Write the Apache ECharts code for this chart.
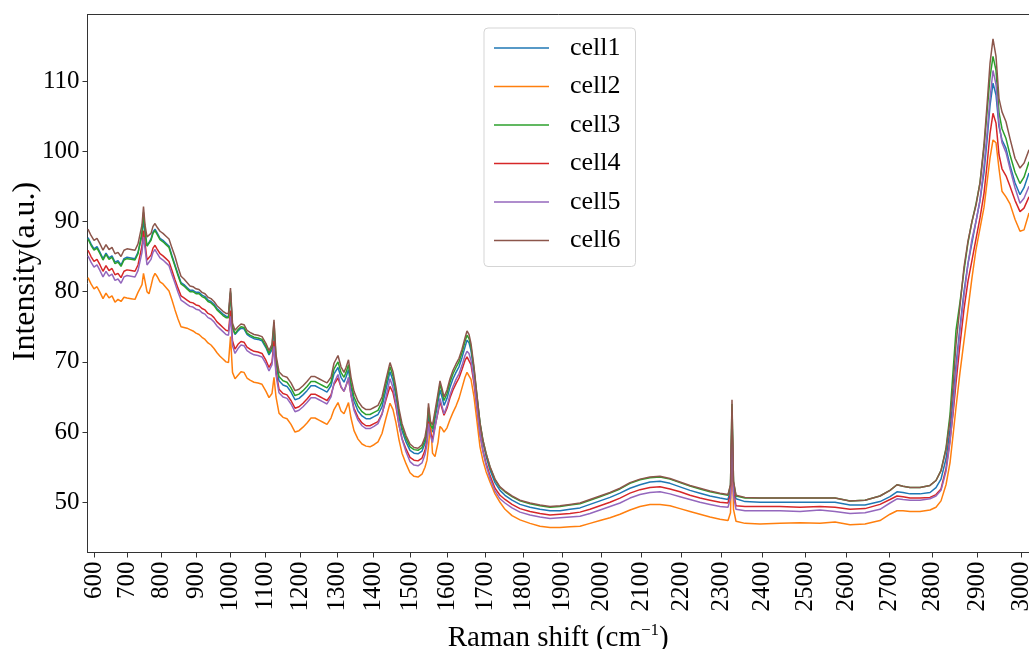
<!DOCTYPE html>
<html><head><meta charset="utf-8">
<script src="https://cdn.jsdelivr.net/npm/echarts@6/dist/echarts.min.js"></script>
<style>html,body{margin:0;padding:0;background:#fff;overflow:hidden}#c{width:1029px;height:649px}</style>
</head><body><div id="c"></div>
<script>
// detector channel of each sample (uniform-in-wavelength axis, as in the source plot)
const channel = [
0.5,3.5,6.5,9.5,12.5,15.5,18.5,21.5,24.5,27.5,
30.5,33.5,36.5,39.5,43.5,47.5,50.5,52.5,54.5,56,
57.5,59.5,61.5,63.5,65.5,67.5,69.5,72.5,75.5,78.5,
81.5,84.5,87.5,90.5,93.5,96.5,99.5,102.5,105.5,108.5,
111.5,114.5,117.5,120.5,123.5,126.5,129.5,132.5,135.5,138.5,
141,143,145,147.5,150.5,153.5,156.5,159.5,162.5,166.5,
170.5,174.5,178.5,181.5,184.5,186.5,188.5,191.5,195.5,199.5,
203.5,207.5,211.5,215.5,219.5,223.5,227.5,231.5,235.5,239.5,
243.5,246.5,250.5,253.5,256.5,258.5,261,263.5,266.5,270.5,
274.5,278.5,282.5,286.5,290.5,294.5,298.5,302.5,305.5,308.5,
311.5,314.5,318.5,322.5,326.5,330.5,334.5,337.5,339.5,341,
343,345,347.5,350.5,352.5,354.5,356.5,359.5,362.5,365.5,
368.5,371.5,374.5,377.5,379.5,381.5,383.5,386.5,389.5,392.5,
395.5,398.5,402.5,407.5,412.5,417.5,424.5,432.5,442.5,452.5,
462.5,472.5,482.5,492.5,502.5,512.5,522.5,532.5,542.5,552.5,
562.5,572.5,582.5,592.5,602.5,612.5,622.5,632.5,640.5,643,
644.5,646,648.5,657.5,672.5,692.5,712.5,732.5,747.5,762.5,
777.5,792.5,802.5,809.5,815.5,822.5,832.5,842.5,848.5,853.5,
858.5,862.5,865.5,868.5,872.5,876.5,880.5,884.5,888.5,892.5,
896.5,899.5,902.5,905.5,908.5,911.5,914.5,918.5,922.5,927.5,
932.5,936.5,941.5];

const cell1 = [
87.7,86.8,86.1,86.4,85.6,84.7,85.5,84.8,85.1,84.2,
84.4,83.8,84.7,84.9,84.8,84.7,85.6,85.5,88.0,90.3,
88.3,86.5,86.4,87.5,88.5,88.9,88.4,87.6,87.3,86.9,
86.5,85.1,83.8,82.5,81.3,81.0,80.6,80.2,80.2,79.9,
79.9,79.5,79.3,78.8,78.6,78.2,77.6,77.2,76.8,76.5,
76.4,79.8,74.8,73.9,74.4,74.8,74.7,73.9,73.6,73.3,
73.2,73.0,72.0,71.0,71.7,74.6,70.0,67.3,66.7,66.5,
65.7,64.6,64.8,65.3,65.9,66.6,66.6,66.3,66.0,65.7,
66.6,68.3,69.2,67.8,67.1,67.8,68.9,66.4,64.4,63.0,
62.3,61.9,61.9,62.2,62.5,63.6,66.1,68.6,67.3,65.1,
62.2,60.2,58.6,57.4,57.0,56.9,57.3,58.4,59.8,62.5,
60.5,60.0,61.9,64.3,66.0,65.0,63.8,64.8,66.4,67.6,
68.5,69.3,70.6,72.1,73.1,72.7,71.6,68.6,64.8,61.1,
58.5,56.6,54.6,52.8,51.7,51.0,50.3,49.7,49.3,49.0,
48.8,48.8,49.0,49.2,49.7,50.2,50.7,51.3,52.0,52.5,
52.9,53.0,52.7,52.2,51.7,51.3,50.9,50.6,50.4,51.8,
62.5,52.3,50.5,50.1,50.0,50.0,50.0,50.0,50.0,49.6,
49.6,50.1,50.8,51.5,51.4,51.2,51.2,51.4,52.1,53.3,
56.2,60.3,64.5,69.5,75.0,80.0,84.0,87.0,90.0,93.0,
97.0,101.5,106.5,109.7,108.0,103.5,101.6,100.4,98.0,95.5,
93.8,94.8,96.9];

const cell2 = [
82.0,81.1,80.4,80.7,79.9,79.0,79.8,79.1,79.4,78.5,
78.9,78.6,79.2,79.1,79.0,78.9,79.9,79.7,81.0,82.6,
81.5,80.0,79.7,80.8,82.0,82.6,82.2,81.4,81.1,80.6,
80.1,78.8,77.4,76.1,75.0,74.9,74.8,74.6,74.4,74.1,
73.9,73.5,73.2,72.7,72.4,71.9,71.3,70.8,70.4,70.0,
69.9,73.6,68.5,67.6,68.1,68.6,68.5,67.7,67.4,67.1,
67.0,66.8,65.8,64.9,65.5,67.8,65.0,62.7,62.1,61.9,
61.1,60.0,60.2,60.7,61.3,62.0,62.0,61.7,61.4,61.1,
62.0,63.2,64.2,63.0,62.6,63.3,64.2,62.0,60.2,59.0,
58.3,58.0,57.9,58.2,58.6,59.8,62.0,64.1,63.2,61.3,
58.9,57.0,55.5,54.2,53.7,53.6,54.0,55.0,56.0,58.0,
61.5,57.0,56.5,58.5,60.8,60.5,60.0,60.6,61.8,62.8,
63.7,64.8,66.3,67.8,68.5,68.4,67.5,65.0,61.5,57.9,
55.9,54.4,52.9,51.2,50.0,49.0,48.1,47.5,47.0,46.6,
46.4,46.4,46.5,46.6,47.0,47.4,47.8,48.3,48.9,49.4,
49.7,49.7,49.5,49.1,48.7,48.3,47.9,47.6,47.4,48.5,
58.0,49.0,47.3,47.0,46.9,47.0,47.1,47.0,47.2,46.8,
46.9,47.4,48.3,48.8,48.8,48.7,48.7,48.9,49.3,50.2,
52.5,55.6,59.5,63.5,68.5,73.0,77.5,82.0,86.0,89.0,
92.0,95.5,99.0,101.6,101.2,97.5,94.3,93.5,92.5,90.3,
88.6,88.8,91.2];

const cell3 = [
87.5,86.6,85.9,86.2,85.4,84.5,85.3,84.6,84.9,84.0,
84.2,83.6,84.5,84.7,84.6,84.5,85.4,85.3,88.5,91.3,
88.8,86.5,86.3,87.3,88.3,88.7,88.2,87.4,87.1,86.7,
86.3,84.9,83.6,82.3,81.1,80.8,80.4,80.0,80.0,79.7,
79.7,79.3,79.1,78.6,78.4,78.0,77.4,77.0,76.6,76.3,
76.3,80.0,75.0,74.0,74.6,75.0,74.9,74.1,73.8,73.5,
73.4,73.2,72.2,71.2,72.1,75.6,70.5,67.9,67.3,67.1,
66.3,65.2,65.4,65.9,66.5,67.2,67.2,66.9,66.6,66.3,
67.1,69.0,70.0,68.5,67.8,68.5,69.6,67.0,65.0,63.7,
62.9,62.5,62.5,62.8,63.1,64.3,66.9,69.3,68.0,65.7,
62.8,60.7,59.1,57.9,57.5,57.4,57.8,58.9,60.5,63.5,
61.0,60.5,62.5,65.0,66.8,65.7,64.5,65.5,67.1,68.3,
69.2,70.0,71.3,72.9,73.8,73.3,72.1,69.0,65.1,61.3,
58.8,57.0,55.0,53.2,52.1,51.5,50.8,50.2,49.8,49.5,
49.3,49.4,49.6,49.8,50.3,50.8,51.3,51.9,52.7,53.2,
53.5,53.6,53.3,52.8,52.3,51.9,51.5,51.2,51.0,52.4,
64.0,52.9,50.9,50.6,50.6,50.6,50.6,50.6,50.6,50.2,
50.3,50.9,51.7,52.5,52.3,52.1,52.1,52.4,53.1,54.5,
57.7,62.5,68.5,74.5,78.5,83.0,87.0,90.0,92.5,95.5,
100.5,105.5,110.5,113.5,111.5,105.5,103.2,101.8,99.5,97.0,
95.4,96.3,98.5];

const cell4 = [
85.9,85.0,84.3,84.6,83.8,82.9,83.7,83.0,83.3,82.4,
82.6,82.0,82.9,83.1,83.0,82.9,83.8,83.6,86.5,88.7,
87.0,84.5,84.3,85.2,86.2,86.6,86.1,85.4,85.1,84.7,
84.3,83.0,81.7,80.5,79.4,79.1,78.8,78.5,78.4,78.1,
78.0,77.6,77.4,76.9,76.7,76.3,75.7,75.3,74.9,74.5,
74.4,77.3,73.0,71.8,72.5,72.9,72.8,72.1,71.8,71.5,
71.4,71.2,70.2,69.2,70.0,73.0,68.6,66.1,65.5,65.3,
64.5,63.4,63.6,64.1,64.7,65.4,65.4,65.1,64.8,64.5,
65.3,66.8,67.7,66.4,65.8,66.6,67.6,65.3,63.4,62.1,
61.3,60.9,60.9,61.2,61.5,62.6,64.6,66.5,65.6,63.6,
61.0,59.1,57.6,56.4,56.0,55.9,56.3,57.4,58.8,61.5,
59.8,59.0,60.8,62.8,64.3,63.4,62.4,63.4,64.9,66.0,
66.9,67.7,68.9,70.2,70.7,70.5,69.6,66.9,63.3,59.7,
57.3,55.6,53.8,52.0,51.0,50.4,49.7,49.1,48.7,48.4,
48.2,48.3,48.4,48.6,49.0,49.5,50.0,50.6,51.3,51.8,
52.1,52.2,51.9,51.5,51.0,50.6,50.3,50.0,49.9,51.2,
61.5,51.6,49.5,49.4,49.4,49.4,49.3,49.4,49.3,49.0,
49.1,49.7,50.4,50.9,50.8,50.6,50.6,50.7,51.1,51.9,
54.8,58.9,62.5,67.0,72.5,77.5,81.5,84.5,87.5,90.5,
94.0,98.0,102.5,105.4,104.0,99.5,97.5,96.5,95.0,93.0,
91.4,91.9,93.5];

const cell5 = [
85.1,84.2,83.5,83.8,83.0,82.1,82.9,82.2,82.5,81.6,
81.8,81.2,82.1,82.3,82.2,82.1,83.0,82.8,85.6,87.8,
86.2,83.8,83.6,84.6,85.6,86.0,85.5,84.8,84.5,84.1,
83.7,82.4,81.2,79.9,78.8,78.5,78.2,77.9,77.8,77.5,
77.4,77.0,76.8,76.3,76.1,75.7,75.1,74.7,74.3,73.9,
73.8,76.5,72.3,71.2,71.9,72.4,72.3,71.6,71.3,71.0,
70.9,70.7,69.7,68.7,69.6,72.2,68.1,65.6,65.0,64.8,
64.0,62.9,63.1,63.6,64.2,64.9,64.9,64.6,64.3,64.0,
65.0,67.0,68.2,66.5,65.8,66.6,67.8,65.2,63.1,61.7,
60.9,60.5,60.5,60.8,61.2,62.5,65.0,67.6,66.3,64.0,
61.0,59.0,57.2,55.8,55.3,55.2,55.6,56.8,58.3,61.2,
59.5,58.5,60.6,63.0,64.8,63.7,62.6,63.7,65.3,66.5,
67.5,68.3,69.5,70.9,71.5,71.2,70.2,67.3,63.5,59.7,
57.2,55.3,53.4,51.6,50.5,49.9,49.2,48.6,48.2,47.9,
47.7,47.8,47.9,48.0,48.4,48.9,49.4,49.9,50.6,51.1,
51.4,51.5,51.2,50.8,50.4,50.0,49.7,49.4,49.3,50.6,
60.3,51.0,49.0,48.8,48.8,48.8,48.7,48.9,48.7,48.4,
48.5,49.0,49.9,50.5,50.4,50.3,50.3,50.5,50.9,51.7,
54.4,58.5,63.0,68.5,74.5,79.5,84.0,87.5,90.0,93.0,
98.0,102.5,107.5,111.5,109.5,104.0,101.2,99.8,97.5,94.8,
92.6,93.3,95.0];

const cell6 = [
88.9,88.0,87.3,87.6,86.8,85.9,86.7,86.0,86.3,85.4,
85.6,85.0,85.9,86.1,86.0,85.9,86.8,86.6,89.5,92.1,
89.5,87.8,87.6,88.3,89.3,89.7,89.2,88.6,88.3,87.9,
87.5,86.2,85.0,83.5,82.2,81.8,81.3,80.8,80.7,80.4,
80.3,79.9,79.7,79.2,79.0,78.6,78.0,77.6,77.2,76.9,
76.9,80.5,75.5,74.5,75.0,75.4,75.3,74.5,74.2,73.9,
73.8,73.6,72.6,71.6,72.5,76.0,71.0,68.6,68.0,67.8,
67.0,65.9,66.1,66.6,67.2,67.9,67.9,67.6,67.3,67.0,
67.8,69.8,70.9,69.3,68.5,69.2,70.3,67.8,65.8,64.4,
63.6,63.2,63.2,63.5,63.8,65.0,67.5,69.9,68.6,66.3,
63.3,61.2,59.5,58.3,57.8,57.7,58.2,59.3,61.0,64.1,
61.5,61.0,63.0,65.5,67.3,66.2,65.0,66.0,67.6,68.8,
69.7,70.5,71.8,73.4,74.4,73.9,72.6,69.3,65.2,61.3,
58.8,57.0,55.1,53.3,52.2,51.6,50.9,50.3,49.9,49.6,
49.4,49.5,49.7,49.9,50.4,50.9,51.4,52.0,52.8,53.3,
53.6,53.7,53.4,52.9,52.4,52.0,51.6,51.3,51.1,52.5,
64.6,53.0,51.0,50.7,50.6,50.6,50.6,50.6,50.6,50.2,
50.3,50.9,51.7,52.5,52.3,52.1,52.1,52.4,53.1,54.5,
57.5,61.7,66.5,72.5,78.0,83.5,87.2,90.0,92.3,95.5,
101.0,106.5,112.5,116.0,113.5,107.5,105.6,104.2,101.8,99.0,
97.6,98.3,100.2];

// channel positions of the Raman-shift tick marks
const tickChannel = [6.8,39.8,73.8,108.8,142.8,177.8,213.2,249.5,285.8,323.2,360.2,397.8,436.2,
  474.8,513.8,553.5,593.5,633.5,675.2,717.5,759.2,802.2,844.8,889.8,934.2];
const tickLabels = ['600','700','800','900','1000','1100','1200','1300','1400','1500','1600','1700','1800',
  '1900','2000','2100','2200','2300','2400','2500','2600','2700','2800','2900','3000'];
const yTicks = [50,60,70,80,90,100,110];

const seriesNames = ['cell1','cell2','cell3','cell4','cell5','cell6'];
const seriesValues = [cell1,cell2,cell3,cell4,cell5,cell6];
const colors = ['#1f77b4','#ff7f0e','#2ca02c','#d62728','#9467bd','#8c564b'];

const FONT = 'Liberation Serif, Times New Roman, serif';
const axisColor = '#333';

function labelFor(v){
  let best = 0, bd = Infinity;
  tickChannel.forEach((c,i)=>{ const d = Math.abs(c - v); if (d < bd){ bd = d; best = i; } });
  return tickLabels[best];
}

const chart = echarts.init(document.getElementById('c'), null, {renderer:'canvas', width:1029, height:649});
chart.setOption({
  animation:false,
  backgroundColor:'#fff',
  grid:{left:87.5, right:0, top:14.5, bottom:96.5, containLabel:false, outerBoundsMode:'none'},
  legend:{
    orient:'vertical', left:484, top:28,
    data:seriesNames, icon:'rect', itemWidth:55, itemHeight:1.5, itemGap:10.5,
    padding:[6,15,12,10],
    borderColor:'#d5d5d5', borderWidth:1, borderRadius:4,
    backgroundColor:'rgba(255,255,255,0.85)',
    textStyle:{fontFamily:FONT, fontSize:26, color:'#000', lineHeight:28, padding:[0,0,0,16]}
  },
  xAxis:[{
    type:'value', min:0, max:941.5, position:'bottom',
    axisLine:{show:true, onZero:false, lineStyle:{color:axisColor, width:1}},
    axisTick:{show:true, customValues:tickChannel, length:5, lineStyle:{color:axisColor, width:1}},
    axisLabel:{customValues:tickChannel, rotate:90, margin:9, fontFamily:FONT, fontSize:25, color:'#000', formatter:labelFor},
    splitLine:{show:false},
    name:'{a|Raman shift (cm}{s|−1}{a|)}', nameLocation:'middle', nameGap:70, nameMoveOverlap:false,
    nameTextStyle:{rich:{
      a:{fontFamily:FONT, fontSize:29, color:'#000', lineHeight:32},
      s:{fontFamily:FONT, fontSize:17, color:'#000', lineHeight:16, verticalAlign:'top'}
    }}
  },{
    type:'value', min:0, max:941.5, position:'top',
    axisLine:{show:true, onZero:false, lineStyle:{color:axisColor, width:1}},
    axisTick:{show:false}, axisLabel:{show:false}, splitLine:{show:false}
  }],
  yAxis:{
    type:'value', min:42.85, max:119.47,
    axisLine:{show:true, onZero:false, lineStyle:{color:axisColor, width:1}},
    axisTick:{show:true, customValues:yTicks, length:5, lineStyle:{color:axisColor, width:1}},
    axisLabel:{customValues:yTicks, margin:8, fontFamily:FONT, fontSize:25, color:'#000'},
    splitLine:{show:false},
    name:'Intensity(a.u.)', nameLocation:'middle', nameGap:46, nameMoveOverlap:false,
    nameTextStyle:{fontFamily:FONT, fontSize:32, color:'#000', padding:[0,0,0,24]}
  },
  series: seriesNames.map((n,i)=>({
    name:n, type:'line', xAxisIndex:0,
    data: channel.map((c,k)=>[c, seriesValues[i][k]]),
    symbol:'none', showSymbol:false, clip:true,
    lineStyle:{width:1.5, color:colors[i]}, itemStyle:{color:colors[i]},
    emphasis:{disabled:true}, z:2+i
  }))
});
</script></body></html>
